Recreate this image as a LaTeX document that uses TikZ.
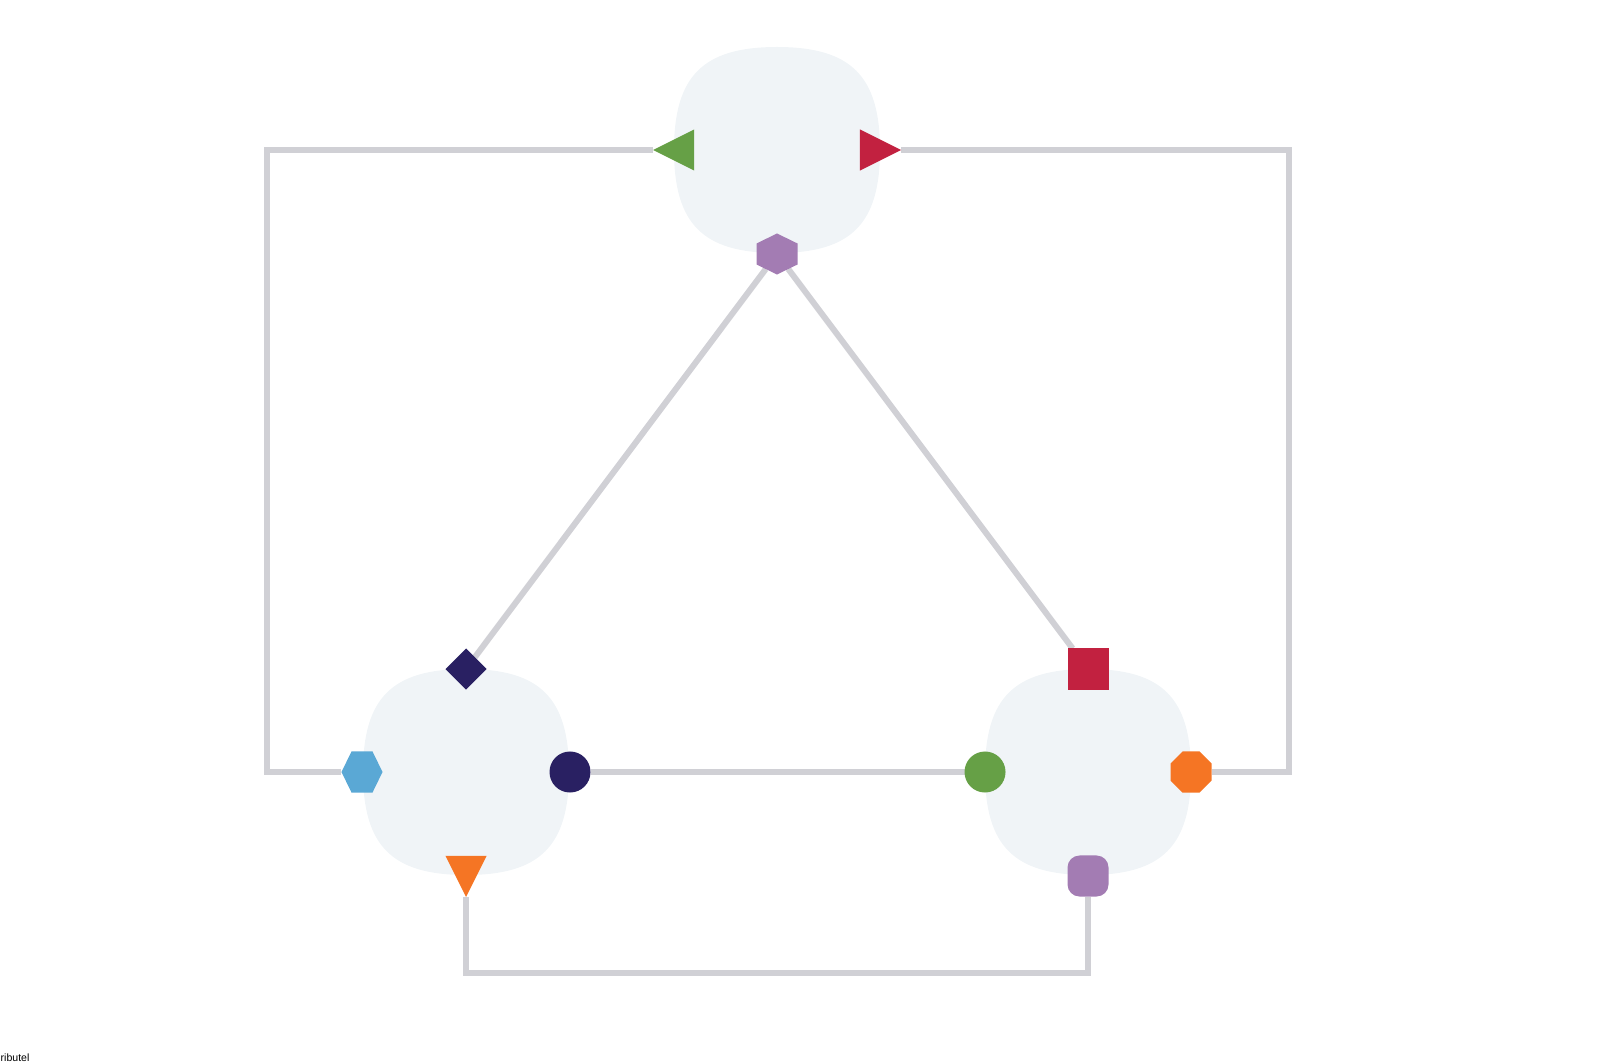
\documentclass[tikz,border=0pt]{standalone}
\usepackage{fontspec}
\setmainfont{Liberation Sans}
\usetikzlibrary{shapes.geometric,shapes.symbols,backgrounds}

\definecolor{blobfill}{RGB}{240,244,247}
\definecolor{wiregray}{RGB}{208,208,213}
\definecolor{portgreen}{RGB}{102,160,70}
\definecolor{portred}{RGB}{194,33,64}
\definecolor{portpurple}{RGB}{163,124,179}
\definecolor{portnavy}{RGB}{41,32,98}
\definecolor{portblue}{RGB}{90,168,213}
\definecolor{portorange}{RGB}{245,117,36}

\tikzset{
  port/.style={inner sep=0pt, outer sep=0pt, minimum size=4.1mm},
  tri/.style={port, isosceles triangle, isosceles triangle stretches},
  hex/.style={port, signal, signal pointer angle=128},
  wire/.style={draw=wiregray, line width=0.6mm},
  blob/.pic={
    \fill[blobfill] (0,-103) .. controls (74,-103) and (103,-74) .. (103,0)
      .. controls (103,74) and (74,103) .. (0,103)
      .. controls (-74,103) and (-103,74) .. (-103,0)
      .. controls (-103,-74) and (-74,-103) .. (0,-103) -- cycle;
  }
}

\begin{document}
\begin{tikzpicture}[x=0.01cm, y=-0.01cm]
    \useasboundingbox (0,0) rectangle (1598,1061);

    % top block
    \node[tri, shape border rotate=180, fill=portgreen, anchor=apex] (gtri) at (653,150) {};
    \node[tri, fill=portred, anchor=apex] (rtri) at (901,150) {};
    \node[hex, signal to=north and south, minimum height=2.1mm, fill=portpurple] (phex) at (777,254) {};

    % left block
    \node[port, diamond, fill=portnavy] (ndia) at (466,669) {};
    \node[hex, signal to=east and west, fill=portblue] (bhex) at (362,772) {};
    \node[port, circle, fill=portnavy] (ncirc) at (570,772) {};
    \node[tri, shape border rotate=270, fill=portorange, anchor=apex] (otri) at (466,897) {};

    % right block
    \node[port, rectangle, fill=portred] (rsq) at (1088,669) {};
    \node[port, circle, fill=portgreen] (gcirc) at (985,772) {};
    \node[port, regular polygon, regular polygon sides=8, minimum size=4.44mm, fill=portorange] (oct) at (1191,772) {};
    \node[port, rectangle, rounded corners=1.2mm, fill=portpurple] (psq) at (1088,876) {};

    \coordinate (nw) at (267,150);
    \coordinate (ne) at (1289,150);
    \coordinate (sb) at (466,973);

    \node[anchor=base west, inner sep=0pt, font=\fontsize{3}{3.6}\selectfont] (credit) at (0,1061) {ributel};

    \begin{pgfonlayer}{background}
        \pic (top) at (777,150) {blob};
        \pic (left) at (466,772) {blob};
        \pic (right) at (1088,772) {blob};

        \draw[wire] (gtri.apex) -- (nw) |- (bhex);
        \draw[wire] (rtri.apex) -- (ne) |- (oct);
        \draw[wire] (phex) -- (ndia);
        \draw[wire] (phex) -- (rsq);
        \draw[wire] (ncirc) -- (gcirc);
        \draw[wire] (otri.apex) -- (sb) -| (psq);
    \end{pgfonlayer}
\end{tikzpicture}
\end{document}
